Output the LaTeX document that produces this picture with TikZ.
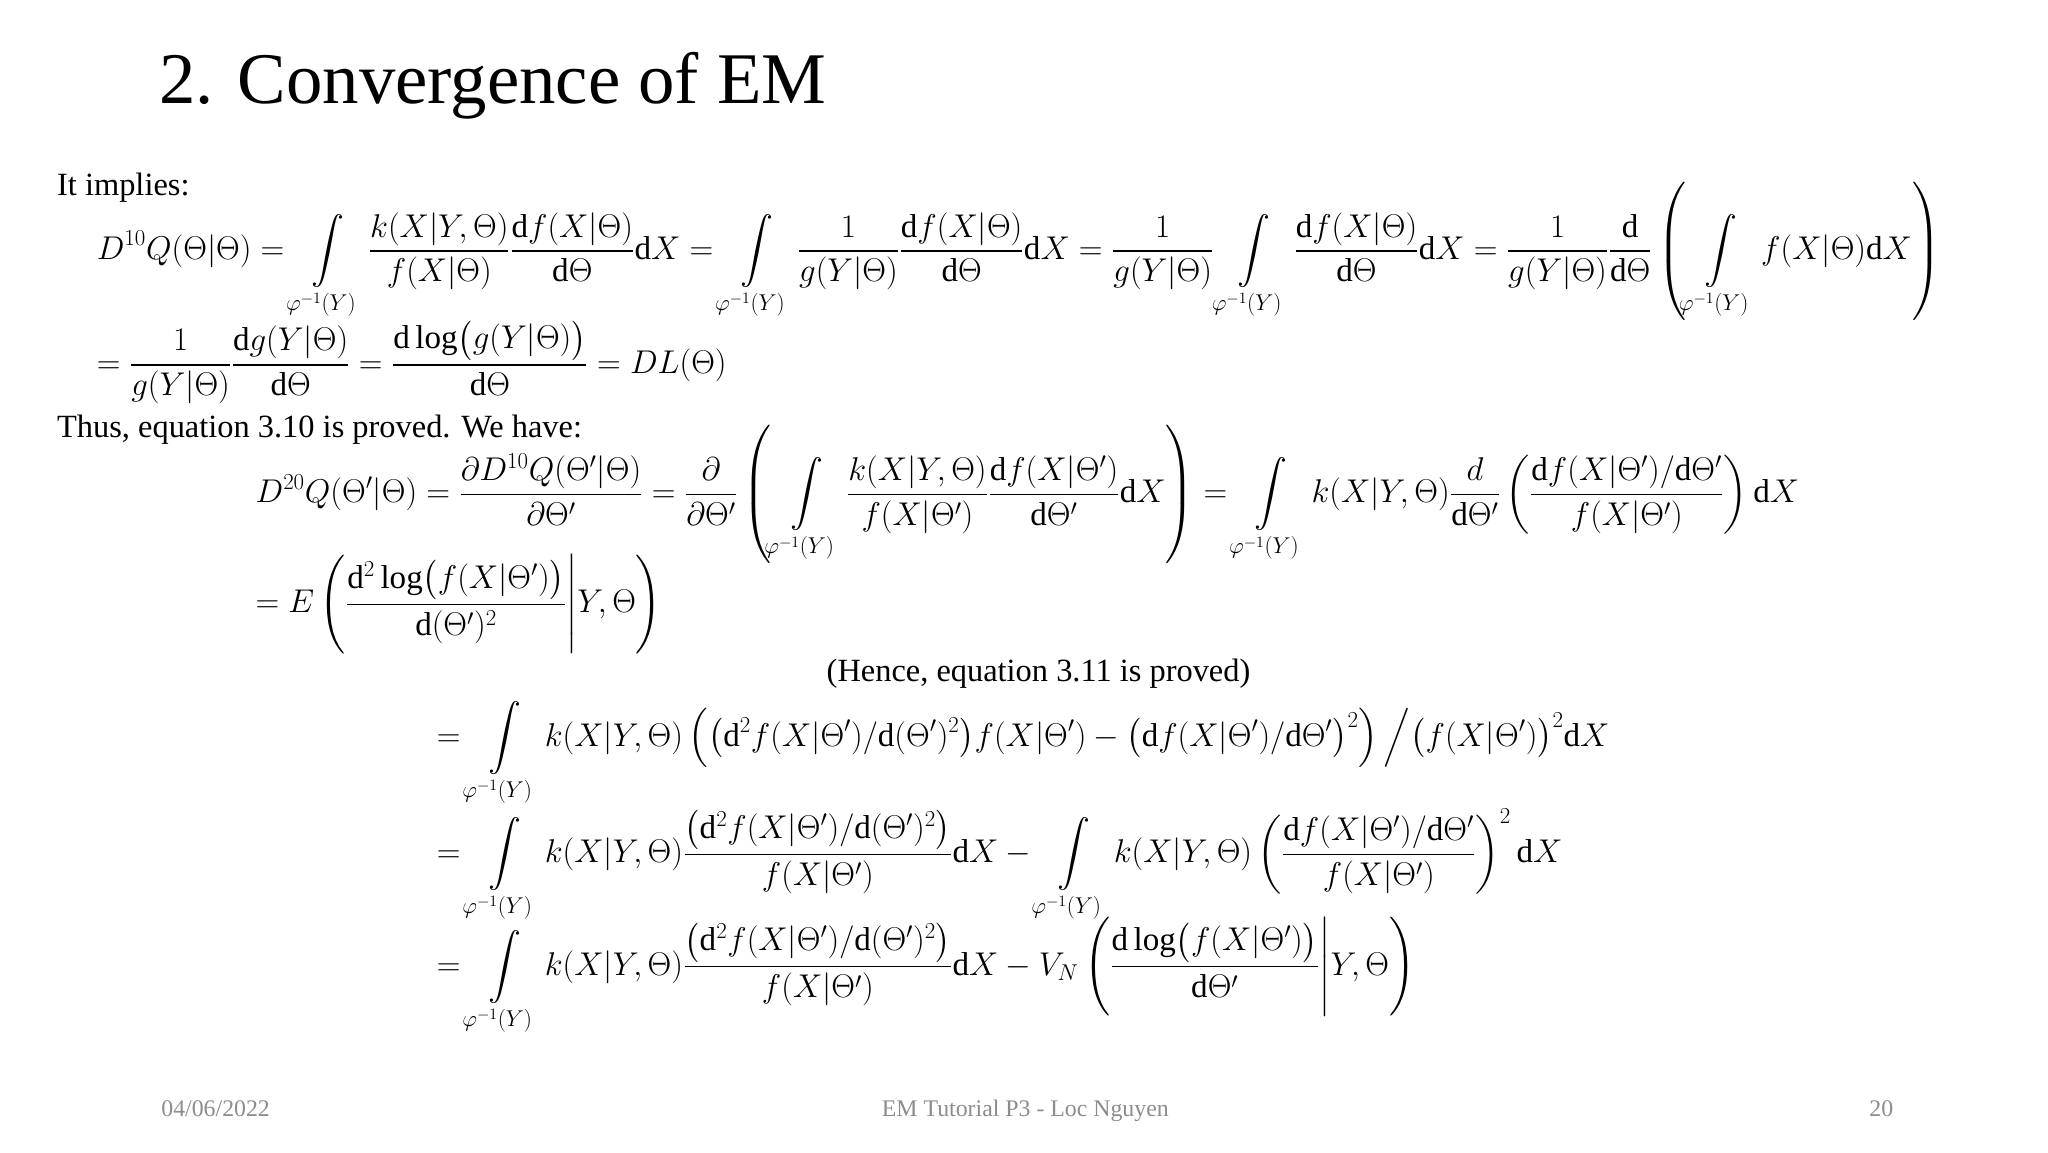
\documentclass[tikz,border=0pt]{standalone}
\usepackage{amsmath}
\usepackage{fontspec}
\setmainfont{Liberation Serif}
\newcommand{\Ig}{\int\limits_{\varphi^{-1}(Y)}}
\newcommand{\dd}{\mathrm{d}}
\begin{document}
\begin{tikzpicture}[x=1pt,y=-1pt,
  txt/.style={anchor=base west,inner sep=0pt,font=\fontsize{24.5}{28}\selectfont},
  eq/.style={anchor=base west,inner sep=0pt,font=\fontsize{25}{30}\selectfont},
  foot/.style={anchor=base,inner sep=0pt,text=black!45,font=\fontsize{18}{22}\selectfont}]
\useasboundingbox (0,0) rectangle (1548,871);
\node[anchor=base west,inner sep=0pt,font=\fontsize{55}{66}\selectfont] (title) at (120,78) {2. Convergence of EM};
\node[txt] (t1) at (43,148) {It implies:};
\node[eq] (e1) at (73,196) {$\displaystyle D^{10}Q(\Theta|\Theta)=\Ig\frac{k(X|Y,\Theta)}{f(X|\Theta)}\frac{\dd f(X|\Theta)}{\dd\Theta}\dd X=\Ig\frac{1}{g(Y|\Theta)}\frac{\dd f(X|\Theta)}{\dd\Theta}\dd X=\frac{1}{g(Y|\Theta)}\Ig\frac{\dd f(X|\Theta)}{\dd\Theta}\dd X=\frac{1}{g(Y|\Theta)}\frac{\dd}{\dd\Theta}\left(\Ig f(X|\Theta)\dd X\right)$};
\node[eq] (e2) at (73,282) {$\displaystyle =\frac{1}{g(Y|\Theta)}\frac{\dd g(Y|\Theta)}{\dd\Theta}=\frac{\dd\log\bigl(g(Y|\Theta)\bigr)}{\dd\Theta}=DL(\Theta)$};
\node[txt] (t2) at (43,331) {Thus, equation 3.10 is proved. We have:};
\node[eq] (e3) at (193,380) {$\displaystyle D^{20}Q(\Theta'|\Theta)=\frac{\partial D^{10}Q(\Theta'|\Theta)}{\partial\Theta'}=\frac{\partial}{\partial\Theta'}\left(\Ig\frac{k(X|Y,\Theta)}{f(X|\Theta')}\frac{\dd f(X|\Theta')}{\dd\Theta'}\dd X\right)=\Ig k(X|Y,\Theta)\frac{d}{\dd\Theta'}\left(\frac{\dd f(X|\Theta')/\dd\Theta'}{f(X|\Theta')}\right)\dd X$};
\node[eq] (e4) at (193,463) {$\displaystyle =E\left(\frac{\dd^2\log\bigl(f(X|\Theta')\bigr)}{\dd(\Theta')^2}\middle|Y,\Theta\right)$};
\node[txt,anchor=base] (t3) at (785,515) {(Hence, equation 3.11 is proved)};
\node[eq] (e5) at (330,564) {$\displaystyle =\Ig k(X|Y,\Theta)\left(\bigl(\dd^2 f(X|\Theta')/\dd(\Theta')^2\bigr)f(X|\Theta')-\bigl(\dd f(X|\Theta')/\dd\Theta'\bigr)^2\right)\Big/\bigl(f(X|\Theta')\bigr)^2\dd X$};
\node[eq] (e6) at (330,652) {$\displaystyle =\Ig k(X|Y,\Theta)\frac{\bigl(\dd^2 f(X|\Theta')/\dd(\Theta')^2\bigr)}{f(X|\Theta')}\dd X-\Ig k(X|Y,\Theta)\left(\frac{\dd f(X|\Theta')/\dd\Theta'}{f(X|\Theta')}\right)^2\dd X$};
\node[eq] (e7) at (330,737) {$\displaystyle =\Ig k(X|Y,\Theta)\frac{\bigl(\dd^2 f(X|\Theta')/\dd(\Theta')^2\bigr)}{f(X|\Theta')}\dd X-V_N\left(\frac{\dd\log\bigl(f(X|\Theta')\bigr)}{\dd\Theta'}\middle|Y,\Theta\right)$};
\node[foot] (f1) at (163,844) {04/06/2022};
\node[foot] (f2) at (775,844) {EM Tutorial P3 - Loc Nguyen};
\node[foot] (f3) at (1422,844) {20};
\end{tikzpicture}
\end{document}
